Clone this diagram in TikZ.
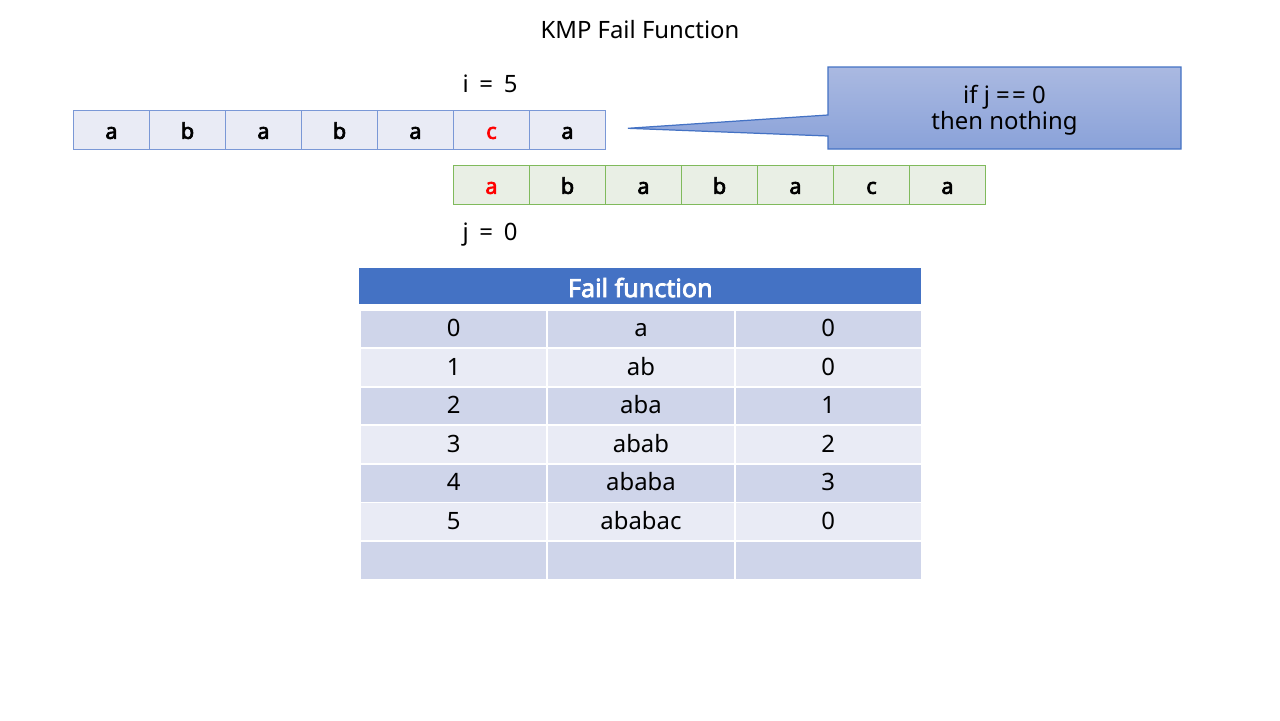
\documentclass[tikz,border=0pt]{standalone}
\usepackage{fontspec}
\setmainfont{Noto Sans}[BoldFont={Noto Sans}, BoldFeatures={FakeBold=3}]
\definecolor{cellblue}{HTML}{7A98D6}
\definecolor{cellfillA}{HTML}{E9EBF5}
\definecolor{cellgreen}{HTML}{80BA5C}
\definecolor{cellfillB}{HTML}{E9EFE5}
\definecolor{hdrblue}{HTML}{4472C4}
\definecolor{rowdark}{HTML}{CFD5EA}
\definecolor{rowlight}{HTML}{E9EBF5}
\definecolor{calltop}{HTML}{AAB9E1}
\definecolor{callbot}{HTML}{8AA2D9}
\definecolor{redtxt}{HTML}{FF0000}
\begin{document}
\begin{tikzpicture}[x=0.02cm,y=-0.02cm,
  arrcell/.style={line width=0.6pt, minimum width=1.52cm, minimum height=0.78cm,
    inner sep=0pt, text height=10pt, text depth=0pt, anchor=north west,
    font=\fontsize{12.4}{14}\selectfont\bfseries},
  cellA/.style={arrcell, draw=cellblue, fill=cellfillA},
  cellB/.style={arrcell, draw=cellgreen, fill=cellfillB},
  lbl/.style={font=\fontsize{13.6}{16}\selectfont, inner sep=0pt, anchor=base},
  tcell/.style={draw=white, line width=1.1pt, minimum width=3.747cm, minimum height=0.77cm,
    inner sep=0pt, text height=8.8pt, text depth=0pt, anchor=north west,
    font=\fontsize{13.6}{16}\selectfont},
  dark/.style={tcell, fill=rowdark},
  light/.style={tcell, fill=rowlight},
  hdr/.style={fill=hdrblue, text=white, minimum width=11.24cm, minimum height=0.72cm,
    inner sep=0pt, text height=12.2pt, text depth=0pt, anchor=north west,
    font=\fontsize{14.3}{16}\selectfont\bfseries}
]
\useasboundingbox[fill=white] (0,0) rectangle (1280,720);

% title
\node[lbl] (title) at (640,38.5) {KMP Fail Function};

% text array
\foreach \c [count=\k from 0] in {a,b,a,b,a,{\color{redtxt}c},a}{
  \node[cellA] (t\k) at (73+76*\k,110) {\c};
}
% pattern array
\foreach \c [count=\k from 0] in {{\color{redtxt}a},b,a,b,a,c,a}{
  \node[cellB] (p\k) at (453+76*\k,165) {\c};
}

\node[lbl] (ilbl) at (490,92) {i\hspace{0.45em}=\hspace{0.45em}5};
\node[lbl] (jlbl) at (490,240.5) {j\hspace{0.45em}=\hspace{0.45em}0};

% callout
\coordinate (tip) at (628,128.3);
\coordinate (cnw) at (828,67);
\coordinate (cse) at (1181,149);
\path[draw=hdrblue, line width=0.7pt, top color=calltop, bottom color=callbot]
  (cnw) -- (cnw -| cse) -- (cse) -- (cse -| cnw) -- (828,136) -- (tip) -- (828,115) -- cycle;
\node[lbl, align=center, anchor=center] (calltext) at (1004.5,110)
  {if j =\hspace{0.1em}= 0\\[-1.5pt]then nothing};

% table
\node[hdr] (head) at (359,268) {Fail function};
\foreach \a/\b/\c [count=\r from 0] in {0/a/0,1/ab/0,2/aba/1,3/abab/2,4/ababa/3,5/ababac/0,{}/{}/{}}{
  \pgfmathsetmacro{\yy}{309+38.5*\r}
  \pgfmathparse{mod(\r,2)==0 ? "dark" : "light"}
  \edef\sty{\pgfmathresult}
  \node[\sty] (r\r c0) at (359,\yy) {\a};
  \node[\sty] (r\r c1) at (546.33,\yy) {\b};
  \node[\sty] (r\r c2) at (733.67,\yy) {\c};
}
\end{tikzpicture}
\end{document}
